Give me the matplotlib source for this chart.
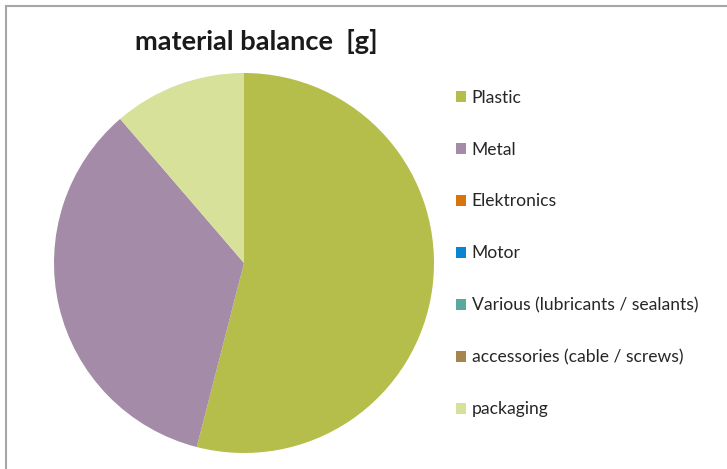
import matplotlib.pyplot as plt
from matplotlib.lines import Line2D

# data (grams)
labels = ['Plastic', 'Metal', 'Elektronics', 'Motor',
          'Various (lubricants / sealants)', 'accessories (cable / screws)', 'packaging']
values = [540, 347, 0, 0, 0, 0, 113]
colors = ['#B5BE4A', '#A48BA8', '#D9730D', '#0A85D1', '#5BA99E', '#A6844E', '#D8E199']

plt.rcParams['font.family'] = ['Lato', 'DejaVu Sans']

fig = plt.figure(figsize=(7.27, 4.69), dpi=100)
ax = fig.add_axes([54/727, 16/469, 380/727, 380/469])

wedges, _ = ax.pie(values, colors=colors, startangle=90, counterclock=False, radius=1)
ax.set_xlim(-1, 1)
ax.set_ylim(-1, 1)
ax.set_aspect('equal')

fig.text(256/727, 1 - 42/469, 'material balance  [g]', ha='center', va='center',
         fontsize=19.6, fontweight='bold', color='#1a1a1a')

fig.legend(wedges, labels, loc='upper left', bbox_to_anchor=(447/727, 1 - 81/469),
           frameon=False, fontsize=12.6, handlelength=0.6, handleheight=0.6,
           handletextpad=0.3, labelspacing=2.05, borderpad=0, labelcolor='#262626')

# chart frame (only top/left visible in the crop)
fig.add_artist(Line2D([6/727, 6/727], [0, 1 - 6/469], transform=fig.transFigure,
                      color='#A6A6A6', lw=1.5))
fig.add_artist(Line2D([6/727, 1], [1 - 6/469, 1 - 6/469], transform=fig.transFigure,
                      color='#A6A6A6', lw=1.5))

fig.savefig('out.png', dpi=100)
